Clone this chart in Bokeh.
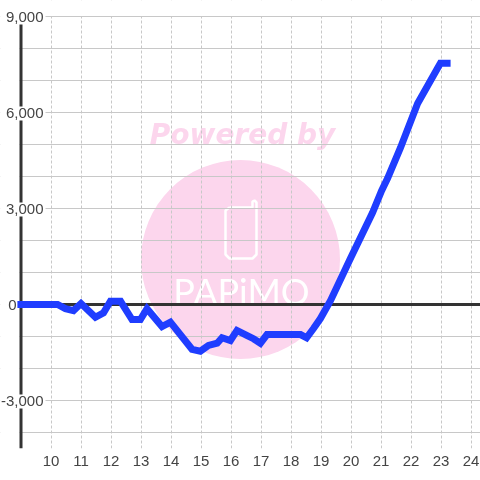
from bokeh.core.properties import value
from bokeh.embed import file_html
from bokeh.models import FixedTicker, Grid, LinearAxis, Range1d
from bokeh.plotting import figure
from bokeh.resources import INLINE

# ---- data ----
hours = [8.88, 10.22, 10.48, 10.75, 11.0, 11.48, 11.75, 11.98, 12.32, 12.7, 12.98, 13.2,
         13.7, 13.98, 14.7, 14.98, 15.25, 15.54, 15.7, 15.98, 16.2, 16.54, 16.75, 16.98,
         17.2, 18.32, 18.52, 18.75, 18.98, 19.32, 19.98, 20.72, 21.02, 21.22, 21.65, 22.22,
         22.88, 22.98, 23.32]
balance = [0, 0, -130, -190, 30, -400, -260, 100, 100, -470, -470, -130,
           -690, -550, -1400, -1460, -1280, -1210, -1040, -1125, -810, -970, -1070, -1210,
           -940, -940, -1040, -750, -440, 125, 1437, 2875, 3560, 3940, 4900, 6280,
           7375, 7540, 7540]
x_ticks = list(range(10, 25))
y_labelled = [-3000, 3000, 6000, 9000]
y_zero = [0]
y_grid = [-4000, -3000, -2000, -1000, 0, 1000, 2000, 3000, 4000, 5000, 6000, 7000, 8000, 9000]

# ---- scale helpers (page pixels to data, for decoration only) ----
def dx(px):
    return 10 + (px - 50.5) / 30

def dy(py):
    return (304 - py) / 0.032

PINK = "#fcd6ed"
GRID = "#c8c8c8"
TEXT = "#444444"
DARK = "#333333"

p = figure(width=480, height=480, output_backend="svg", toolbar_location=None,
           x_range=Range1d(dx(0), dx(480)), y_range=Range1d(dy(448), dy(0)),
           min_border_left=0, min_border_right=0, min_border_top=0, min_border_bottom=32,
           outline_line_color=None, background_fill_color="white", border_fill_color="white",
           x_axis_type=None, y_axis_type=None)
p.styles = {"position": "fixed", "left": "0", "top": "0"}

# watermark (below the grid)
p.scatter([dx(240)], [dy(259)], size=199, marker="circle", fill_color=PINK, line_color=None, level="image")
p.text([dx(242)], [dy(134)], text=["Powered by"], text_font=value("DejaVu Sans"), text_font_style="bold italic",
       text_font_size="28px", text_color=PINK, text_align="center", text_baseline="middle", level="image")
# phone icon
p.line([dx(v) for v in [229, 225, 225, 229, 252, 256, 256, 254, 252, 252, 229]],
       [dy(v) for v in [207, 210, 254, 258, 258, 254, 202, 200, 201, 207, 207]],
       line_color="white", line_width=2.5, level="image")
p.text([dx(241)], [dy(290)], text=["PAPiMO"], text_font=value("Lato"), text_font_size="36px",
       text_color="white", text_align="center", text_baseline="middle", level="image")

# grid
p.add_layout(Grid(dimension=1, ticker=FixedTicker(ticks=y_grid), grid_line_color=GRID, grid_line_width=1), "center")
p.add_layout(Grid(dimension=0, ticker=FixedTicker(ticks=x_ticks), grid_line_color=GRID, grid_line_width=1,
                  grid_line_dash="3 2"), "center")

# white strips over the grid outside the plot box, then label backgrounds
p.quad(left=[dx(0)], right=[dx(19)], bottom=[dy(448)], top=[dy(0)], fill_color="white", line_color=None)
p.quad(left=[dx(0)], right=[dx(480)], bottom=[dy(15.5)], top=[dy(0)], fill_color="white", line_color=None)
p.line([dx(20.5), dx(20.5)], [dy(448), dy(16)], line_color=DARK, line_width=3)
p.line([dx(20), dx(480)], [0, 0], line_color=DARK, line_width=3)
p.quad(left=[dx(0)] * len(y_labelled), right=[dx(45)] * len(y_labelled),
       bottom=[v - 250 for v in y_labelled], top=[v + 188 for v in y_labelled],
       fill_color="white", line_color=None)

# series
p.line(hours, balance, line_color="#1f3dff", line_width=7, line_join="miter", line_cap="butt")

# axes
def plain_y_axis(location, ticks):
    axis = LinearAxis(fixed_location=dx(location), ticker=FixedTicker(ticks=ticks))
    axis.axis_line_color = None
    axis.major_tick_line_color = None
    axis.minor_tick_line_color = None
    axis.major_label_standoff = 2
    axis.major_label_text_font = "Liberation Sans"
    axis.major_label_text_font_size = "15px"
    axis.major_label_text_color = TEXT
    axis.major_label_overrides = {v: f"{v:,}" for v in ticks}
    return axis

p.add_layout(plain_y_axis(51, y_labelled), "left")
p.add_layout(plain_y_axis(24, y_zero), "left")

xaxis = LinearAxis(ticker=FixedTicker(ticks=x_ticks))
xaxis.axis_line_color = None
xaxis.major_tick_line_color = None
xaxis.minor_tick_line_color = None
xaxis.major_label_standoff = 1
xaxis.major_label_text_font = "Liberation Sans"
xaxis.major_label_text_font_size = "15px"
xaxis.major_label_text_color = TEXT
p.add_layout(xaxis, "below")

open("out.html", "w").write(file_html(p, INLINE))
